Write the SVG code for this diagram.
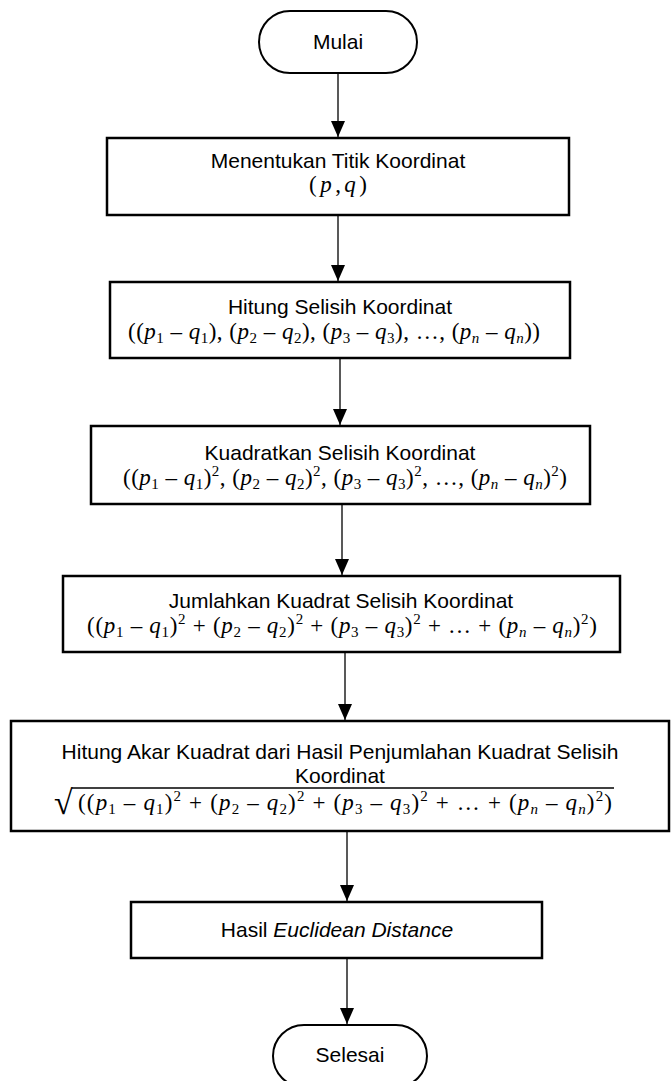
<svg xmlns="http://www.w3.org/2000/svg" width="672" height="1081" viewBox="0 0 672 1081">
<style>
.box{fill:#fff;stroke:#000;stroke-width:2.5}
.term{fill:#fff;stroke:#000;stroke-width:2}
.t{font-family:"Liberation Sans",Arial,sans-serif;font-size:21px;fill:#000;text-anchor:middle}
.m{font-family:"Liberation Serif","Times New Roman",serif;font-size:23px;fill:#000;text-anchor:middle}
.i{font-style:italic}
.s{font-size:15px}
.c{stroke:#222;stroke-width:1.5;fill:none}
</style>
<defs>
<marker id="ah" markerUnits="userSpaceOnUse" markerWidth="16" markerHeight="14" refX="16" refY="7" orient="auto" viewBox="0 0 16 14">
<path d="M0,0 L16,7 L0,14 Z" fill="#000"/>
</marker>
</defs>
<g id="connectors">
<line class="c" x1="338" y1="73" x2="338" y2="137" marker-end="url(#ah)"/>
<line class="c" x1="338" y1="215" x2="338" y2="281" marker-end="url(#ah)"/>
<line class="c" x1="340" y1="358" x2="340" y2="425" marker-end="url(#ah)"/>
<line class="c" x1="342" y1="504" x2="342" y2="575" marker-end="url(#ah)"/>
<line class="c" x1="345" y1="652" x2="345" y2="720" marker-end="url(#ah)"/>
<line class="c" x1="347" y1="831" x2="347" y2="901" marker-end="url(#ah)"/>
<line class="c" x1="347" y1="958" x2="347" y2="1024" marker-end="url(#ah)"/>
</g>
<g id="mulai">
<rect class="term" x="259" y="11" width="158" height="62" rx="31"/>
<text class="t" x="338" y="49">Mulai</text>
</g>
<g id="box1">
<rect class="box" x="107" y="138" width="462" height="77"/>
<text class="t" x="338" y="168">Menentukan Titik Koordinat</text>
<text class="m" x="338" y="192" font-size="24" textLength="58" lengthAdjust="spacing">(<tspan class="i">p</tspan>,<tspan class="i">q</tspan>)</text>
</g>
<g id="box2">
<rect class="box" x="110" y="282" width="460" height="76"/>
<text class="t" x="340" y="314">Hitung Selisih Koordinat</text>
<text class="m" x="334" y="339" textLength="412" lengthAdjust="spacing">((<tspan class="i">p</tspan><tspan class="s" dy="4">1</tspan><tspan dy="-4"> – </tspan><tspan class="i">q</tspan><tspan class="s" dy="4">1</tspan><tspan dy="-4">), (</tspan><tspan class="i">p</tspan><tspan class="s" dy="4">2</tspan><tspan dy="-4"> – </tspan><tspan class="i">q</tspan><tspan class="s" dy="4">2</tspan><tspan dy="-4">), (</tspan><tspan class="i">p</tspan><tspan class="s" dy="4">3</tspan><tspan dy="-4"> – </tspan><tspan class="i">q</tspan><tspan class="s" dy="4">3</tspan><tspan dy="-4">), …, (</tspan><tspan class="i">p</tspan><tspan class="s i" dy="4">n</tspan><tspan dy="-4"> – </tspan><tspan class="i">q</tspan><tspan class="s i" dy="4">n</tspan><tspan dy="-4">))</tspan></text>
</g>
<g id="box3">
<rect class="box" x="91" y="426" width="499" height="78"/>
<text class="t" x="340" y="460">Kuadratkan Selisih Koordinat</text>
<text class="m" x="345" y="485" textLength="444" lengthAdjust="spacing">((<tspan class="i">p</tspan><tspan class="s" dy="4">1</tspan><tspan dy="-4"> – </tspan><tspan class="i">q</tspan><tspan class="s" dy="4">1</tspan><tspan dy="-4">)</tspan><tspan class="s" dy="-9">2</tspan><tspan dy="9">, (</tspan><tspan class="i">p</tspan><tspan class="s" dy="4">2</tspan><tspan dy="-4"> – </tspan><tspan class="i">q</tspan><tspan class="s" dy="4">2</tspan><tspan dy="-4">)</tspan><tspan class="s" dy="-9">2</tspan><tspan dy="9">, (</tspan><tspan class="i">p</tspan><tspan class="s" dy="4">3</tspan><tspan dy="-4"> – </tspan><tspan class="i">q</tspan><tspan class="s" dy="4">3</tspan><tspan dy="-4">)</tspan><tspan class="s" dy="-9">2</tspan><tspan dy="9">,  …, (</tspan><tspan class="i">p</tspan><tspan class="s i" dy="4">n</tspan><tspan dy="-4"> – </tspan><tspan class="i">q</tspan><tspan class="s i" dy="4">n</tspan><tspan dy="-4">)</tspan><tspan class="s" dy="-9">2</tspan><tspan dy="9">)</tspan></text>
</g>
<g id="box4">
<rect class="box" x="63" y="576" width="557" height="76"/>
<text class="t" x="341" y="608">Jumlahkan Kuadrat Selisih Koordinat</text>
<text class="m" x="342" y="633" textLength="510" lengthAdjust="spacing">((<tspan class="i">p</tspan><tspan class="s" dy="4">1</tspan><tspan dy="-4"> – </tspan><tspan class="i">q</tspan><tspan class="s" dy="4">1</tspan><tspan dy="-4">)</tspan><tspan class="s" dy="-9">2</tspan><tspan dy="9"> + (</tspan><tspan class="i">p</tspan><tspan class="s" dy="4">2</tspan><tspan dy="-4"> – </tspan><tspan class="i">q</tspan><tspan class="s" dy="4">2</tspan><tspan dy="-4">)</tspan><tspan class="s" dy="-9">2</tspan><tspan dy="9"> + (</tspan><tspan class="i">p</tspan><tspan class="s" dy="4">3</tspan><tspan dy="-4"> – </tspan><tspan class="i">q</tspan><tspan class="s" dy="4">3</tspan><tspan dy="-4">)</tspan><tspan class="s" dy="-9">2</tspan><tspan dy="9"> +  … + (</tspan><tspan class="i">p</tspan><tspan class="s i" dy="4">n</tspan><tspan dy="-4"> – </tspan><tspan class="i">q</tspan><tspan class="s i" dy="4">n</tspan><tspan dy="-4">)</tspan><tspan class="s" dy="-9">2</tspan><tspan dy="9">)</tspan></text>
</g>
<g id="box5">
<rect class="box" x="11" y="721" width="658" height="110"/>
<text class="t" x="340" y="759">Hitung Akar Kuadrat dari Hasil Penjumlahan Kuadrat Selisih</text>
<text class="t" x="340" y="783">Koordinat</text>
<text x="54" y="814" font-family="Liberation Serif, serif" font-size="34">√</text>
<line x1="72" y1="788" x2="614" y2="788" stroke="#000" stroke-width="1.6"/>
<text class="m" x="345" y="810" textLength="534" lengthAdjust="spacing">((<tspan class="i">p</tspan><tspan class="s" dy="4">1</tspan><tspan dy="-4"> – </tspan><tspan class="i">q</tspan><tspan class="s" dy="4">1</tspan><tspan dy="-4">)</tspan><tspan class="s" dy="-9">2</tspan><tspan dy="9"> + (</tspan><tspan class="i">p</tspan><tspan class="s" dy="4">2</tspan><tspan dy="-4"> – </tspan><tspan class="i">q</tspan><tspan class="s" dy="4">2</tspan><tspan dy="-4">)</tspan><tspan class="s" dy="-9">2</tspan><tspan dy="9"> + (</tspan><tspan class="i">p</tspan><tspan class="s" dy="4">3</tspan><tspan dy="-4"> – </tspan><tspan class="i">q</tspan><tspan class="s" dy="4">3</tspan><tspan dy="-4">)</tspan><tspan class="s" dy="-9">2</tspan><tspan dy="9"> +  … + (</tspan><tspan class="i">p</tspan><tspan class="s i" dy="4">n</tspan><tspan dy="-4"> – </tspan><tspan class="i">q</tspan><tspan class="s i" dy="4">n</tspan><tspan dy="-4">)</tspan><tspan class="s" dy="-9">2</tspan><tspan dy="9">)</tspan></text>
</g>
<g id="box6">
<rect class="box" x="131" y="902" width="411" height="56"/>
<text class="t" x="337" y="937">Hasil <tspan class="i">Euclidean Distance</tspan></text>
</g>
<g id="selesai">
<rect class="term" x="273" y="1025" width="154" height="62" rx="31"/>
<text class="t" x="350" y="1062">Selesai</text>
</g>
</svg>
